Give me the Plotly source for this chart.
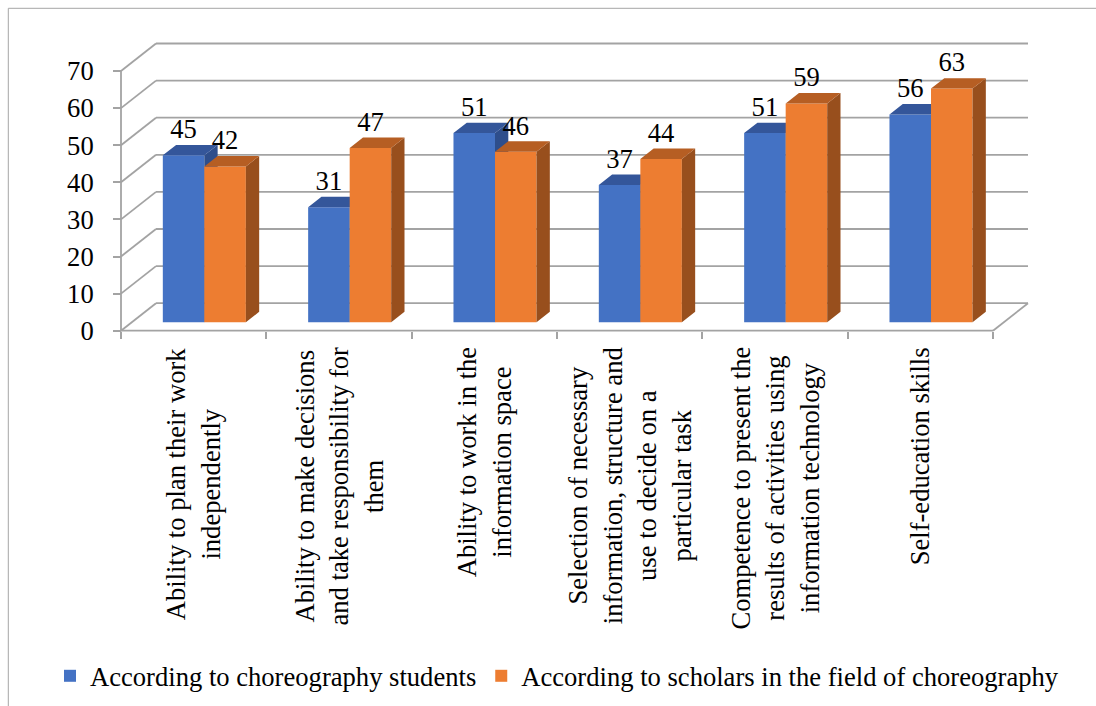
import plotly.graph_objects as go

# ---------------- data ----------------
categories = [
    "Ability to plan their work<br>independently",
    "Ability to make decisions<br>and take responsibility for<br>them",
    "Ability to work in the<br>information space",
    "Selection of necessary<br>information, structure and<br>use to decide on a<br>particular task",
    "Competence to present the<br>results of activities using<br>information technology",
    "Self-education skills",
]
students = [45, 31, 51, 37, 51, 56]
scholars = [42, 47, 46, 44, 59, 63]
series_names = ["According to choreography students",
                "According to scholars in the field of choreography"]
y_ticks = [0, 10, 20, 30, 40, 50, 60, 70]

# ---------------- geometry (pixels -> data units) ----------------
W_FIG, H_FIG = 1096, 706
PX = 872 / 6.0          # pixels per category
PY = 3.71               # pixels per value unit
X0PX, Y0PX = 121.0, 330.7   # pixel position of front-axis origin
DX = 35.0 / PX          # full wall depth, x (data units)
DY = 27.5 / PY          # full wall depth, y (data units)
F0 = 0.305              # bar front position as fraction of depth
FD = 0.38               # bar depth as fraction of depth
BW = 1 / 3.5            # bar width (gap 150%)
B0 = F0 * DY
BDX, BDY = FD * DX, FD * DY
N = len(categories)

L_PX, R_PX, T_PX, B_PX = 95, 1065, 15, 345
xrange_ = [(L_PX - X0PX) / PX, (R_PX - X0PX) / PX]
yrange_ = [-(B_PX - Y0PX) / PY, (Y0PX - T_PX) / PY]

FONT = "Liberation Serif"
FS = 26.6
GRID = "#a3a3a3"
BLUE, BLUE_TOP, BLUE_SIDE = "#4472C4", "#34569A", "#2E4E8C"
ORANGE, ORANGE_TOP, ORANGE_SIDE = "#ED7D31", "#B65E23", "#984F1D"

fig = go.Figure()


def faces(values, left_offset):
    xs_top, ys_top, xs_side, ys_side, xc = [], [], [], [], []
    for k, v in enumerate(values):
        c = k + 0.5 + F0 * DX
        xl = c + left_offset
        xr = xl + BW
        h = B0 + v
        xs_top += [xl, xr, xr + BDX, xl + BDX, xl, None]
        ys_top += [h, h, h + BDY, h + BDY, h, None]
        xs_side += [xr, xr, xr + BDX, xr + BDX, xr, None]
        ys_side += [B0, h, h + BDY, B0 + BDY, B0, None]
        xc.append(xl + BW / 2)
    return xs_top, ys_top, xs_side, ys_side, xc


series = [
    (students, -BW, BLUE, BLUE_TOP, BLUE_SIDE, "x", "y"),
    (scholars, 0.0, ORANGE, ORANGE_TOP, ORANGE_SIDE, "x2", "y2"),
]
label_x, label_y, label_t = [], [], []
for i, (vals, off, cf, ct, cs, xa, ya) in enumerate(series):
    xt, yt, xs, ys, xc = faces(vals, off)
    fig.add_trace(go.Bar(x=xc, y=vals, base=B0, width=BW, marker=dict(color=cf, line=dict(width=0)),
                         name=series_names[i], xaxis=xa, yaxis=ya, hoverinfo="skip"))
    fig.add_trace(go.Scatter(x=xs, y=ys, fill="toself", fillcolor=cs, mode="lines",
                             line=dict(width=0, color=cs), showlegend=False, hoverinfo="skip",
                             xaxis=xa, yaxis=ya))
    fig.add_trace(go.Scatter(x=xt, y=yt, fill="toself", fillcolor=ct, mode="lines",
                             line=dict(width=0, color=ct), showlegend=False, hoverinfo="skip",
                             xaxis=xa, yaxis=ya))
    label_x += xc
    label_y += [B0 + v + BDY for v in vals]
    label_t += [str(v) for v in vals]

fig.add_trace(go.Scatter(x=label_x, y=label_y, text=label_t, mode="text", textposition="top center",
                         textfont=dict(family=FONT, size=FS, color="black"), showlegend=False,
                         hoverinfo="skip", xaxis="x2", yaxis="y2"))

# ---------------- walls / gridlines ----------------
shapes = []
ln = dict(color=GRID, width=1.8)
for v in y_ticks:
    shapes.append(dict(type="line", xref="x", yref="y", x0=0, y0=v, x1=DX, y1=v + DY, line=ln, layer="below"))
    shapes.append(dict(type="line", xref="x", yref="y", x0=DX, y0=v + DY, x1=N + DX, y1=v + DY, line=ln, layer="below"))
shapes.append(dict(type="line", xref="x", yref="y", x0=0, y0=0, x1=0, y1=y_ticks[-1], line=ln, layer="below"))
shapes.append(dict(type="line", xref="x", yref="y", x0=0, y0=0, x1=N, y1=0, line=ln, layer="below"))
shapes.append(dict(type="line", xref="x", yref="y", x0=N, y0=0, x1=N + DX, y1=DY, line=ln, layer="below"))
# outer frame
fx, fy = 8.3 / W_FIG, 1 - 8.3 / H_FIG
shapes.append(dict(type="line", xref="paper", yref="paper", x0=fx, y0=fy, x1=1, y1=fy, line=dict(color="#a6a6a6", width=1)))
shapes.append(dict(type="line", xref="paper", yref="paper", x0=fx, y0=fy, x1=fx, y1=0, line=dict(color="#a6a6a6", width=1)))

# ---------------- category labels ----------------
annotations = []
for k, cat in enumerate(categories):
    annotations.append(dict(x=k + 0.5, xref="x", y=1 - 345 / H_FIG, yref="paper", text=cat, showarrow=False,
                            textangle=-90, xanchor="center", yanchor="top", align="center",
                            font=dict(family=FONT, size=FS, color="black")))

xdom = [L_PX / W_FIG, R_PX / W_FIG]
ydom = [1 - B_PX / H_FIG, 1 - T_PX / H_FIG]
fig.update_layout(
    width=W_FIG, height=H_FIG, autosize=False,
    margin=dict(l=0, r=0, t=0, b=0),
    paper_bgcolor="white", plot_bgcolor="rgba(0,0,0,0)",
    barmode="overlay",
    font=dict(family=FONT),
    xaxis=dict(domain=xdom, range=xrange_, tickvals=list(range(N + 1)), ticks="outside", ticklen=7,
               tickwidth=1.8, tickcolor=GRID, showticklabels=False, showgrid=False, zeroline=False,
               showline=False, anchor="free", position=1 - Y0PX / H_FIG, fixedrange=True),
    yaxis=dict(domain=ydom, range=yrange_, tickvals=y_ticks, ticks="outside", ticklen=8, tickwidth=1.8,
               tickcolor=GRID, showgrid=False, zeroline=False, showline=False, anchor="free",
               position=X0PX / W_FIG, ticklabelstandoff=14,
               tickfont=dict(family=FONT, size=FS, color="black"), fixedrange=True),
    xaxis2=dict(overlaying="x", matches="x", visible=False, domain=xdom),
    yaxis2=dict(overlaying="y", matches="y", visible=False, domain=ydom),
    shapes=shapes,
    annotations=annotations,
    showlegend=True,
    legend=dict(orientation="h", x=50 / W_FIG, xanchor="left", y=1 - 676 / H_FIG, yanchor="middle",
                font=dict(family=FONT, size=FS, color="black"), bgcolor="rgba(0,0,0,0)",
                itemwidth=30, traceorder="normal"),
)

fig.write_html("out.html", config={"displayModeBar": False},
               post_script="document.body.style.margin='0';document.body.style.padding='0';")
